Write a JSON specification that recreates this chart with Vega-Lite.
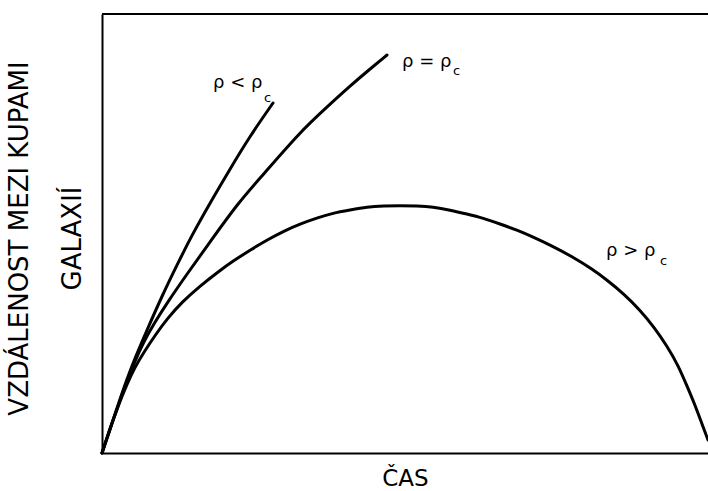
{
  "$schema": "https://vega.github.io/schema/vega-lite/v6.json",
  "width": 606,
  "height": 439,
  "autosize": {"type": "none"},
  "padding": {"left": 102, "top": 14, "right": 0, "bottom": 38},
  "background": "white",
  "config": {"view": {"stroke": null}, "font": "DejaVu Sans"},
  "datasets": {
    "curves": [
      {"series": "open", "t": 0, "d": 0},
      {"series": "open", "t": 8, "d": 24},
      {"series": "open", "t": 16, "d": 48},
      {"series": "open", "t": 25, "d": 74},
      {"series": "open", "t": 33, "d": 95},
      {"series": "open", "t": 45, "d": 123},
      {"series": "open", "t": 60, "d": 157},
      {"series": "open", "t": 75, "d": 188},
      {"series": "open", "t": 90, "d": 218},
      {"series": "open", "t": 108, "d": 250},
      {"series": "open", "t": 128, "d": 284},
      {"series": "open", "t": 148, "d": 317},
      {"series": "open", "t": 171, "d": 350},
      {"series": "critical", "t": 0, "d": 0},
      {"series": "critical", "t": 8, "d": 24},
      {"series": "critical", "t": 16, "d": 47},
      {"series": "critical", "t": 25, "d": 72},
      {"series": "critical", "t": 33, "d": 92},
      {"series": "critical", "t": 41, "d": 110},
      {"series": "critical", "t": 53, "d": 131},
      {"series": "critical", "t": 65, "d": 150},
      {"series": "critical", "t": 85, "d": 179},
      {"series": "critical", "t": 108, "d": 211},
      {"series": "critical", "t": 136, "d": 250},
      {"series": "critical", "t": 160, "d": 277},
      {"series": "critical", "t": 198, "d": 321},
      {"series": "critical", "t": 225, "d": 346},
      {"series": "critical", "t": 248, "d": 367},
      {"series": "critical", "t": 268, "d": 384},
      {"series": "critical", "t": 285, "d": 398},
      {"series": "closed", "t": 0, "d": 0},
      {"series": "closed", "t": 8, "d": 24},
      {"series": "closed", "t": 16, "d": 47},
      {"series": "closed", "t": 25, "d": 69},
      {"series": "closed", "t": 33, "d": 86},
      {"series": "closed", "t": 42, "d": 101},
      {"series": "closed", "t": 54, "d": 119},
      {"series": "closed", "t": 65, "d": 134},
      {"series": "closed", "t": 80, "d": 151},
      {"series": "closed", "t": 98, "d": 167},
      {"series": "closed", "t": 116, "d": 181},
      {"series": "closed", "t": 131, "d": 192},
      {"series": "closed", "t": 150, "d": 204},
      {"series": "closed", "t": 165, "d": 213},
      {"series": "closed", "t": 182, "d": 222},
      {"series": "closed", "t": 198, "d": 229},
      {"series": "closed", "t": 215, "d": 235},
      {"series": "closed", "t": 231, "d": 240},
      {"series": "closed", "t": 248, "d": 243},
      {"series": "closed", "t": 265, "d": 246},
      {"series": "closed", "t": 282, "d": 247},
      {"series": "closed", "t": 298, "d": 247.5},
      {"series": "closed", "t": 315, "d": 247},
      {"series": "closed", "t": 331, "d": 246},
      {"series": "closed", "t": 348, "d": 243},
      {"series": "closed", "t": 365, "d": 239},
      {"series": "closed", "t": 381, "d": 235},
      {"series": "closed", "t": 398, "d": 229},
      {"series": "closed", "t": 415, "d": 223},
      {"series": "closed", "t": 431, "d": 216},
      {"series": "closed", "t": 448, "d": 208},
      {"series": "closed", "t": 471, "d": 196},
      {"series": "closed", "t": 490, "d": 184},
      {"series": "closed", "t": 505, "d": 173},
      {"series": "closed", "t": 522, "d": 159},
      {"series": "closed", "t": 538, "d": 143},
      {"series": "closed", "t": 552, "d": 126},
      {"series": "closed", "t": 565, "d": 107},
      {"series": "closed", "t": 576, "d": 88},
      {"series": "closed", "t": 585, "d": 67},
      {"series": "closed", "t": 593, "d": 48},
      {"series": "closed", "t": 600, "d": 29},
      {"series": "closed", "t": 606, "d": 13}
    ],
    "labels": [
      {"t": 111, "d": 365, "label": "ρ < ρ"},
      {"t": 300, "d": 386, "label": "ρ = ρ"},
      {"t": 504, "d": 197, "label": "ρ > ρ"}
    ],
    "subs": [
      {"t": 162, "d": 351, "label": "c"},
      {"t": 351, "d": 378, "label": "c"},
      {"t": 558, "d": 188, "label": "c"}
    ],
    "frame": [{"d": 439}]
  },
  "encoding": {
    "x": {
      "field": "t",
      "type": "quantitative",
      "scale": {"domain": [0, 606], "nice": false},
      "axis": {
        "title": "ČAS",
        "labels": false,
        "ticks": false,
        "grid": false,
        "domain": true,
        "domainColor": "#000",
        "domainWidth": 2,
        "titleFont": "DejaVu Sans",
        "titleFontSize": 23,
        "titleFontWeight": "normal",
        "titleColor": "#000",
        "titleX": 303,
        "titleY": 32,
        "titleAlign": "center",
        "titleBaseline": "alphabetic"
      }
    },
    "y": {
      "field": "d",
      "type": "quantitative",
      "scale": {"domain": [0, 439], "nice": false},
      "axis": {
        "title": ["VZDÁLENOST MEZI KUPAMI", "GALAXIÍ"],
        "labels": false,
        "ticks": false,
        "grid": false,
        "domain": true,
        "domainColor": "#000",
        "domainWidth": 2,
        "titleFont": "DejaVu Sans",
        "titleFontSize": 26,
        "titleFontWeight": "normal",
        "titleColor": "#000",
        "titleAngle": -90,
        "titleLineHeight": 53,
        "titleX": -83,
        "titleY": 224,
        "titleAlign": "center",
        "titleBaseline": "middle"
      }
    }
  },
  "layer": [
    {
      "data": {"name": "frame"},
      "mark": {"type": "rule", "color": "#000", "strokeWidth": 2},
      "encoding": {"x": null, "y": {"field": "d", "type": "quantitative"}}
    },
    {
      "data": {"name": "curves"},
      "mark": {"type": "line", "color": "#000", "strokeWidth": 3, "interpolate": "basis", "strokeCap": "round"},
      "encoding": {"detail": {"field": "series"}}
    },
    {
      "data": {"name": "labels"},
      "mark": {"type": "text", "font": "DejaVu Sans", "fontSize": 18, "align": "left", "baseline": "alphabetic", "color": "#000"},
      "encoding": {"text": {"field": "label"}}
    },
    {
      "data": {"name": "subs"},
      "mark": {"type": "text", "font": "DejaVu Sans", "fontSize": 13, "align": "left", "baseline": "alphabetic", "color": "#000"},
      "encoding": {"text": {"field": "label"}}
    }
  ]
}
